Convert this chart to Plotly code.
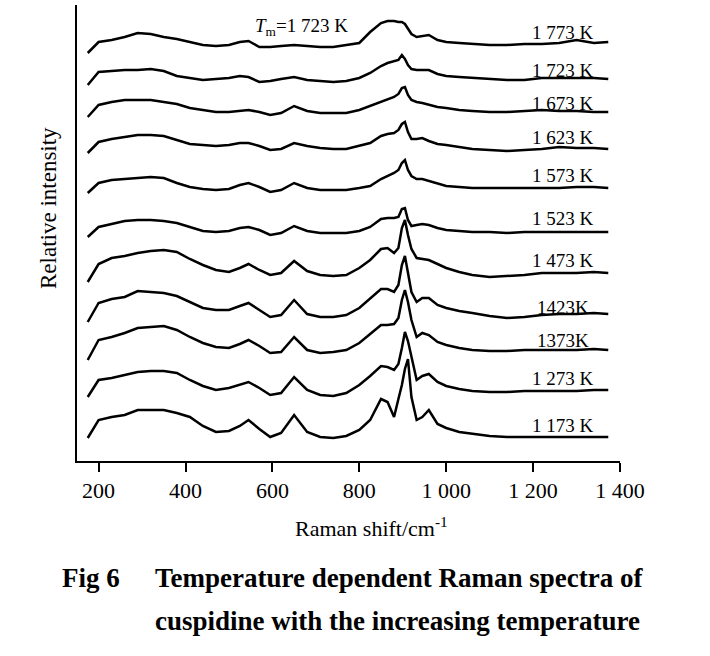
import plotly.graph_objects as go

# ---------------- data ----------------
raman_shift = [175, 200, 230, 260, 290, 320, 350, 380, 410, 440,
               470, 500, 525, 545, 570, 595, 620, 650, 680, 710,
               740, 770, 800, 825, 850, 865, 880, 890, 898, 905,
               912, 920, 932, 945, 960, 980, 1000, 1030, 1060, 1100,
               1140, 1180, 1220, 1260, 1300, 1340, 1373]

temperatures = ["1 173 K", "1 273 K", "1373K", "1423K", "1 473 K", "1 523 K",
                "1 573 K", "1 623 K", "1 673 K", "1 723 K", "1 773 K"]

# vertical stacking offset of each spectrum (relative intensity units)
offsets = [24, 70, 111, 147, 188, 229, 273, 312, 349, 382, 418]

i_1173 = [-1, 17, 20, 22, 27, 27, 27, 24, 20, 11,
          5, 6, 11, 17, 8, 0, 4, 22, 5, 0,
          -1, 1, 7, 17, 38, 35, 20, 38, 52, 68,
          78, 40, 17, 20, 27, 13, 9, 5, 3, 1,
          0, 0, 0, 0, 0, 0, 0]
i_1273 = [-6, 11, 13, 16, 19, 20, 20, 18, 11, 5,
          1, 3, 6, 9, 3, -4, -2, 14, 1, -4,
          -5, -2, 6, 15, 25, 24, 21, 27, 43, 59,
          50, 33, 11, 15, 17, 9, 5, 2, 0, -1,
          -1, 0, 0, 0, 0, 1, 1]
i_1373 = [-10, 10, 13, 17, 22, 23, 24, 20, 13, 7,
          3, 2, 6, 10, 4, -3, -2, 13, 0, -3,
          -2, 0, 7, 16, 25, 25, 26, 32, 50, 60,
          48, 30, 13, 17, 15, 8, 5, 2, 0, -1,
          -1, 0, 0, 0, 0, 1, 0]
i_1423 = [-8, 11, 15, 17, 23, 22, 21, 18, 12, 6,
          4, 4, 8, 11, 4, -3, -1, 14, 0, -3,
          -3, -1, 6, 16, 25, 25, 22, 29, 49, 58,
          42, 22, 12, 16, 16, 9, 6, 3, 1, -2,
          -4, -3, -1, 0, 0, 1, 0]
i_1473 = [-9, 9, 15, 17, 20, 22, 23, 21, 14, 8,
          3, 1, 5, 9, 3, -2, 0, 12, 2, -2,
          -3, -2, 5, 13, 24, 25, 20, 25, 45, 53,
          38, 24, 15, 14, 13, 9, 5, 1, -2, -4,
          -3, -2, 0, 0, 0, 1, 0]
i_1523 = [-5, 5, 8, 11, 12, 12, 11, 9, 5, 1,
          0, 1, 4, 5, 2, -3, -1, 6, 1, -1,
          -1, -1, 1, 5, 13, 14, 14, 15, 23, 24,
          12, 6, 7, 8, 7, 4, 2, 1, 0, 0,
          -1, 0, 0, 0, 0, 0, 0]
i_1573 = [-5, 5, 8, 9, 10, 11, 10, 5, 1, -1,
          -2, -1, 3, 5, 1, -4, -2, 5, 0, -2,
          -2, -2, 0, 2, 9, 12, 15, 18, 25, 28,
          18, 12, 9, 9, 7, 4, 2, 1, 0, 0,
          0, 0, 0, 0, 1, 1, 0]
i_1623 = [-4, 7, 10, 12, 14, 14, 13, 9, 5, 4,
          3, 4, 6, 6, 3, -1, 0, 6, 3, 1,
          0, 0, 3, 6, 13, 15, 16, 19, 25, 27,
          17, 10, 10, 11, 8, 5, 4, 2, 0, -1,
          -2, -1, 0, 2, 1, 1, 0]
i_1673 = [-5, 7, 10, 12, 12, 12, 10, 8, 4, 2,
          0, 0, 1, 2, 0, -3, -1, 6, 1, -1,
          -1, -1, 2, 6, 10, 13, 15, 18, 24, 25,
          17, 12, 10, 9, 7, 5, 4, 2, 1, 0,
          0, 1, 2, 1, 1, 0, 0]
i_1723 = [-6, 7, 8, 9, 9, 10, 8, 3, 1, -1,
          0, 1, 3, 2, -3, -2, 0, 2, -1, -2,
          -3, -2, 1, 6, 13, 16, 18, 19, 24, 20,
          14, 10, 9, 9, 9, 5, 3, 2, 1, 0,
          -1, -1, 1, 1, 1, 1, 0]
i_1773 = [-10, 1, 3, 6, 10, 9, 6, 4, 1, -2,
          -3, -2, 1, 2, -4, -4, -3, -2, -3, -4,
          -4, -2, 0, 11, 20, 22, 22, 21, 21, 19,
          14, 9, 6, 7, 8, 3, 1, 0, -1, -2,
          -2, -1, -1, 0, 3, 0, 1]

spectra = [i_1173, i_1273, i_1373, i_1423, i_1473, i_1523,
           i_1573, i_1623, i_1673, i_1723, i_1773]

tick_vals = [200, 400, 600, 800, 1000, 1200, 1400]
tick_text = ["200", "400", "600", "800", "1 000", "1 200", "1 400"]

# ---------------- figure ----------------
SERIF = "Liberation Serif, Times New Roman, serif"
label_x = 1269
label_dy = [12, 13, 10, 7, 13, 14, 13, 12, 9, 9, 11]

fig = go.Figure()
for name, vals, off in zip(temperatures, spectra, offsets):
    fig.add_trace(go.Scatter(
        x=raman_shift, y=[v + off for v in vals], mode="lines", name=name,
        line=dict(color="black", width=2.5), showlegend=False, hoverinfo="skip"))

annotations = []
for name, off, dy in zip(temperatures, offsets, label_dy):
    annotations.append(dict(x=label_x, y=off + dy, xref="x", yref="y", text=name,
                            showarrow=False, font=dict(family=SERIF, size=19, color="black"),
                            xanchor="center", yanchor="middle"))

W, H = 710, 656
L, R, T, B = 77, 90, 5, 195
pw, ph = W - L - R, H - T - B


def px(xp):
    return (xp - L) / pw


def py(yp):
    return (H - B - yp) / ph


annotations += [
    dict(x=px(301), y=py(27), xref="paper", yref="paper",
         text="<i>T</i><sub>m</sub>=1 723 K", showarrow=False,
         font=dict(family=SERIF, size=19, color="black"), xanchor="center", yanchor="middle"),
    dict(x=px(48), y=py(208), xref="paper", yref="paper", text="Relative intensity",
         textangle=-90, showarrow=False, font=dict(family=SERIF, size=23, color="black"),
         xanchor="center", yanchor="middle"),
    dict(x=px(372), y=py(527), xref="paper", yref="paper", text="Raman shift/cm<sup>-1</sup>",
         showarrow=False, font=dict(family=SERIF, size=22, color="black"),
         xanchor="center", yanchor="middle"),
    dict(x=px(60), y=py(578), xref="paper", yref="paper", text="<b>Fig 6</b>",
         showarrow=False, font=dict(family=SERIF, size=27, color="black"),
         xanchor="left", yanchor="middle"),
    dict(x=px(153), y=py(578), xref="paper", yref="paper",
         text="<b>Temperature dependent Raman spectra of</b>",
         showarrow=False, font=dict(family=SERIF, size=27, color="black"),
         xanchor="left", yanchor="middle"),
    dict(x=px(153), y=py(621), xref="paper", yref="paper",
         text="<b>cuspidine with the increasing temperature</b>",
         showarrow=False, font=dict(family=SERIF, size=27, color="black"),
         xanchor="left", yanchor="middle"),
]

fig.update_layout(
    width=W, height=H,
    margin=dict(l=L, r=R, t=T, b=B),
    paper_bgcolor="white", plot_bgcolor="white",
    annotations=annotations,
    xaxis=dict(range=[150.3, 1400], tickvals=tick_vals, ticktext=tick_text,
               showline=True, linecolor="black", linewidth=2, ticks="outside",
               ticklen=9, tickwidth=2, tickcolor="black", showgrid=False, zeroline=False,
               tickfont=dict(family=SERIF, size=22, color="black")),
    yaxis=dict(range=[0, 456], showline=True, linecolor="black", linewidth=2,
               showticklabels=False, ticks="", showgrid=False, zeroline=False),
)

fig.write_html("out.html", config={"displayModeBar": False},
               post_script="document.body.style.margin='0';")
